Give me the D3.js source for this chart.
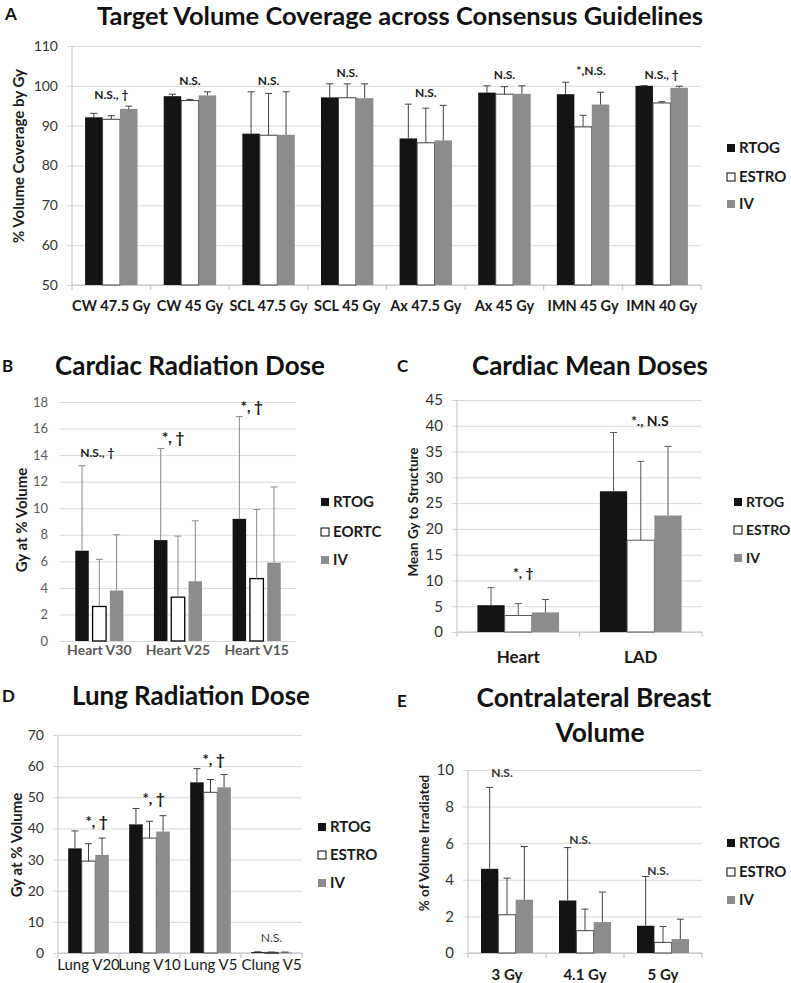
<!DOCTYPE html>
<html><head><meta charset="utf-8">
<script src="https://cdn.jsdelivr.net/npm/d3@7"></script>
<style>
body{margin:0;background:#fff}
svg{display:block}
text{font-family:Lato,"Open Sans",sans-serif}
</style>
</head><body>
<svg id="chart" width="791" height="983"></svg>
<script>
// ---------- DATA ----------
const seriesStd = ["RTOG", "ESTRO", "IV"];
const seriesB = ["RTOG", "EORTC", "IV"];

// Panel A
const catsA = ["CW 47.5 Gy", "CW 45 Gy", "SCL 47.5 Gy", "SCL 45 Gy", "Ax 47.5 Gy", "Ax 45 Gy", "IMN 45 Gy", "IMN 40 Gy"];
const rtogA = [92.1, 97.4, 88.0, 97.1, 86.8, 98.3, 97.9, 100.0];
const estroA = [91.6, 96.3, 87.6, 97.0, 85.7, 97.9, 89.7, 95.7];
const ivA = [94.2, 97.6, 87.7, 96.9, 86.3, 98.0, 95.3, 99.5];
const rtogSdA = [1.0, 0.5, 10.5, 3.4, 8.6, 1.7, 3.0, 0.05];
const estroSdA = [0.9, 0.3, 10.5, 3.5, 8.7, 1.9, 2.9, 0.3];
const ivSdA = [0.7, 0.9, 10.8, 3.6, 8.8, 2.0, 3.1, 0.4];
const notesA = ["N.S., \u2020", "N.S.", "N.S.", "N.S.", "N.S.", "N.S.", "*,N.S.", "N.S., \u2020"];
const ticksA = [50, 60, 70, 80, 90, 100, 110];

// Panel B
const catsB = ["Heart V30", "Heart V25", "Heart V15"];
const rtogB = [6.8, 7.6, 9.2];
const eortcB = [2.6, 3.3, 4.7];
const ivB = [3.8, 4.5, 5.9];
const rtogSdB = [6.4, 6.9, 7.7];
const eortcSdB = [3.55, 4.6, 5.2];
const ivSdB = [4.2, 4.55, 5.7];
const notesB = ["N.S., \u2020", "*, \u2020", "*, \u2020"];
const ticksB = [0, 2, 4, 6, 8, 10, 12, 14, 16, 18];

// Panel C
const catsC = ["Heart", "LAD"];
const rtogC = [5.2, 27.3];
const estroC = [3.2, 17.8];
const ivC = [3.8, 22.6];
const rtogSdC = [3.4, 11.4];
const estroSdC = [2.3, 15.3];
const ivSdC = [2.5, 13.4];
const notesC = ["*, \u2020", "*., N.S"];
const ticksC = [0, 5, 10, 15, 20, 25, 30, 35, 40, 45];

// Panel D
const catsD = ["Lung V20", "Lung V10", "Lung V5", "Clung V5"];
const rtogD = [33.6, 41.3, 54.8, 0.3];
const estroD = [29.5, 36.9, 51.6, 0.2];
const ivD = [31.5, 39.0, 53.2, 0.2];
const rtogSdD = [5.6, 5.1, 4.4, 0.1];
const estroSdD = [5.6, 5.4, 4.1, 0.1];
const ivSdD = [5.4, 5.1, 4.1, 0.1];
const notesD = ["*, \u2020", "*, \u2020", "*, \u2020", "N.S."];
const ticksD = [0, 10, 20, 30, 40, 50, 60, 70];

// Panel E
const catsE = ["3 Gy", "4.1 Gy", "5 Gy"];
const rtogE = [4.6, 2.87, 1.49];
const estroE = [2.09, 1.22, 0.58];
const ivE = [2.91, 1.69, 0.76];
const rtogSdE = [4.45, 2.89, 2.69];
const estroSdE = [2.0, 1.18, 0.87];
const ivSdE = [2.91, 1.64, 1.09];
const notesE = ["N.S.", "N.S.", "N.S."];
const ticksE = [0, 2, 4, 6, 8, 10];

// ---------- DRAWING ----------
const svg = d3.select("#chart");
const fills = ["#141414", "#ffffff", "#8c8c8c"];

function fitText(sel, w) {
  const n = sel.node();
  const fs = parseFloat(sel.attr("font-size"));
  const len = n.getComputedTextLength();
  let nf = fs;
  if (len > 0) nf = fs * w / len;
  sel.attr("font-size", nf.toFixed(2));
  return nf;
}

function panel(c) {
  const g = svg.append("g");
  const y = d3.scaleLinear().domain([c.ticks[0], c.ticks[c.ticks.length - 1]]).range([c.yb, c.yt]);
  const x = d3.scaleBand().domain(c.cats).range([c.x0, c.x1])
    .paddingInner(c.gpad).paddingOuter(c.gpad / 2);
  const xs = d3.scaleBand().domain(d3.range(3)).range([0, x.bandwidth()])
    .paddingInner(c.bpad).paddingOuter(c.bpad / 2);

  // grid + y labels via axis
  const ya = g.append("g").attr("transform", `translate(${c.x0},0)`)
    .call(d3.axisLeft(y).tickValues(c.ticks).tickSizeInner(-(c.x1 - c.x0)).tickSizeOuter(0)
      .tickPadding(c.tickPad).tickFormat(d3.format("d")));
  ya.select(".domain").remove();
  ya.selectAll(".tick line").attr("stroke", "#d9d9d9").attr("x1", c.axis ? -5 : 0);
  ya.selectAll(".tick text").attr("font-family", "Lato, sans-serif").attr("font-size", c.tickSize)
    .attr("fill", c.tickColor);

  if (c.axis) {
    g.append("line").attr("x1", c.x0).attr("x2", c.x0).attr("y1", c.yt).attr("y2", c.yb).attr("stroke", "#bfbfbf");
    g.append("line").attr("x1", c.x0).attr("x2", c.x1).attr("y1", c.yb).attr("y2", c.yb).attr("stroke", "#bfbfbf");
    g.selectAll(".xt").data(d3.range(c.cats.length + 1)).join("line")
      .attr("x1", i => c.x0 + i * x.step()).attr("x2", i => c.x0 + i * x.step())
      .attr("y1", c.yb).attr("y2", c.yb + 5).attr("stroke", "#bfbfbf");
  }

  // bars
  const flat = [];
  c.cats.forEach((cat, i) => {
    c.vals.forEach((s, k) => flat.push({cat, i, k, v: s[i], sd: c.sds[k][i]}));
  });
  g.selectAll(".bar").data(flat).join("rect")
    .attr("x", d => x(d.cat) + xs(d.k))
    .attr("width", xs.bandwidth())
    .attr("y", d => y(d.v))
    .attr("height", d => Math.max(c.minH || 0, c.yb - y(d.v)))
    .attr("fill", d => fills[d.k])
    .attr("stroke", d => d.k === 1 ? c.outline : "none")
    .attr("stroke-width", c.outlineW);
  // error bars
  const eb = g.selectAll(".eb").data(flat).join("g").attr("stroke", c.errColor).attr("stroke-width", 1);
  eb.append("line")
    .attr("x1", d => x(d.cat) + xs(d.k) + xs.bandwidth() / 2)
    .attr("x2", d => x(d.cat) + xs(d.k) + xs.bandwidth() / 2)
    .attr("y1", d => y(d.v)).attr("y2", d => y(d.v + d.sd));
  eb.append("line")
    .attr("x1", d => x(d.cat) + xs(d.k) + xs.bandwidth() / 2 - 3.5)
    .attr("x2", d => x(d.cat) + xs(d.k) + xs.bandwidth() / 2 + 3.5)
    .attr("y1", d => y(d.v + d.sd)).attr("y2", d => y(d.v + d.sd));

  // annotations
  c.cats.forEach((cat, i) => {
    const top = d3.max(c.vals, (s, k) => s[i] + c.sds[k][i]);
    const st = c.noteStyle(c.notes[i], i);
    g.append("text").attr("x", x(cat) + x.bandwidth() / 2 + (st.dx || 0))
      .attr("y", y(top) - st.dy)
      .attr("text-anchor", "middle").attr("font-size", st.size).attr("font-weight", st.weight)
      .attr("fill", st.color).text(c.notes[i]);
  });

  // x labels
  g.selectAll(".xl").data(c.cats).join("text")
    .attr("x", d => x(d) + x.bandwidth() / 2).attr("y", c.xLabelY).attr("dy", "0.35em")
    .attr("text-anchor", "middle").attr("font-size", c.xSize).attr("font-weight", c.xWeight)
    .attr("fill", c.xColor).text(d => d);

  // legend
  c.series.forEach((s, k) => {
    g.append("rect").attr("x", c.legX).attr("y", c.legY[k] - 4).attr("width", 8).attr("height", 8)
      .attr("fill", fills[k]).attr("stroke", k === 1 ? "#000" : "none").attr("stroke-width", 1);
    g.append("text").attr("x", c.legX + 12).attr("y", c.legY[k]).attr("dy", "0.35em")
      .attr("font-size", c.legSize).attr("font-weight", c.legWeight).attr("fill", "#1a1a1a").text(s);
  });

  // y label
  g.append("text").attr("transform", `translate(${c.yLabX},${c.yLabY}) rotate(-90)`)
    .attr("text-anchor", "middle").attr("dy", "0.35em")
    .attr("font-size", c.yLabSize).attr("font-weight", "bold").attr("fill", "#1a1a1a").text(c.yLabel);

  // title(s): first line fitted to width, later lines use the same size
  let tfs = 24;
  c.title.forEach((t, j) => {
    const tt = g.append("text").attr("x", t.x).attr("y", t.y).attr("text-anchor", "middle")
      .attr("font-size", tfs).attr("font-weight", "bold").attr("fill", "#111").text(t.text);
    if (j === 0) tfs = fitText(tt, t.w);
  });
  g.append("text").attr("x", c.letter.x).attr("y", c.letter.y)
    .attr("font-family", "Liberation Sans, Arial, sans-serif").attr("font-size", 17)
    .attr("font-weight", "bold").attr("fill", "#111").text(c.letter.t);
}

const boldNote = (size, dy) => (t, i) => ({size, dy, weight: "bold", color: "#1a1a1a", dx: i === 6 ? 8 : 0});

panel({
  cats: catsA, vals: [rtogA, estroA, ivA], sds: [rtogSdA, estroSdA, ivSdA], notes: notesA, ticks: ticksA,
  series: seriesStd, x0: 72, x1: 701, yb: 285, yt: 46, gpad: 1 / 3, bpad: 0, axis: true,
  tickPad: 14, tickSize: 14, tickColor: "#333", outline: "#404040", outlineW: 1, errColor: "#404040",
  noteStyle: boldNote(12, 7),
  xLabelY: 306, xSize: 14.5, xWeight: "bold", xColor: "#1a1a1a",
  legX: 727, legY: [148, 177, 204], legSize: 15, legWeight: "bold",
  yLabel: "% Volume Coverage by Gy", yLabX: 19, yLabY: 156, yLabSize: 15,
  title: [{text: "Target Volume Coverage across Consensus Guidelines", x: 400, y: 25, w: 606}],
  letter: {t: "A", x: 5, y: 20}
});

panel({
  cats: catsB, vals: [rtogB, eortcB, ivB], sds: [rtogSdB, eortcSdB, ivSdB], notes: notesB, ticks: ticksB,
  series: seriesB, x0: 60, x1: 296, yb: 641, yt: 402, gpad: 0.34, bpad: 0.22, axis: false,
  tickPad: 12, tickSize: 13, tickColor: "#595959", outline: "#000", outlineW: 1.3, errColor: "#8a8a8a",
  noteStyle: (t, i) => ({size: i === 0 ? 12 : 15, dy: i === 0 ? 9 : 5, dx: i === 0 ? -2 : -5, weight: "bold", color: "#1a1a1a"}),
  xLabelY: 650, xSize: 14, xWeight: "bold", xColor: "#595959",
  legX: 321, legY: [502, 532, 560], legSize: 15, legWeight: "bold",
  yLabel: "Gy at % Volume", yLabX: 22, yLabY: 520, yLabSize: 15,
  title: [{text: "Cardiac Radiation Dose", x: 190, y: 375, w: 270}],
  letter: {t: "B", x: 2, y: 372}
});

panel({
  cats: catsC, vals: [rtogC, estroC, ivC], sds: [rtogSdC, estroSdC, ivSdC], notes: notesC, ticks: ticksC,
  series: seriesStd, x0: 457, x1: 702, yb: 632, yt: 400, gpad: 1 / 3, bpad: 0, axis: true,
  tickPad: 14, tickSize: 15, tickColor: "#333", outline: "#595959", outlineW: 1, errColor: "#595959",
  noteStyle: (t, i) => ({size: 14, dy: i === 0 ? 10 : 6, dx: i === 0 ? 5 : 9, weight: "bold", color: "#1a1a1a"}),
  xLabelY: 657, xSize: 17, xWeight: "bold", xColor: "#1a1a1a",
  legX: 734, legY: [502, 530, 558], legSize: 14, legWeight: "bold",
  yLabel: "Mean Gy to Structure", yLabX: 413, yLabY: 512, yLabSize: 13.5,
  title: [{text: "Cardiac Mean Doses", x: 590, y: 375, w: 236}],
  letter: {t: "C", x: 397, y: 372}
});

panel({
  cats: catsD, vals: [rtogD, estroD, ivD], sds: [rtogSdD, estroSdD, ivSdD], notes: notesD, ticks: ticksD,
  series: seriesStd, x0: 58, x1: 302, yb: 953, yt: 735, gpad: 1 / 3, bpad: 0, axis: true, minH: 1,
  tickPad: 14, tickSize: 14, tickColor: "#333", outline: "#404040", outlineW: 1, errColor: "#404040",
  noteStyle: (t, i) => i === 3 ? {size: 12, dy: 10, weight: "normal", color: "#404040"}
    : {size: 15, dy: 4, dx: [8, 4, 3][i], weight: "bold", color: "#1a1a1a"},
  xLabelY: 965, xSize: 15, xWeight: "normal", xColor: "#1a1a1a",
  legX: 318, legY: [827, 855, 883], legSize: 15, legWeight: "bold",
  yLabel: "Gy at % Volume", yLabX: 17, yLabY: 845, yLabSize: 15,
  title: [{text: "Lung Radiation Dose", x: 191, y: 705, w: 238}],
  letter: {t: "D", x: 2, y: 702}
});

panel({
  cats: catsE, vals: [rtogE, estroE, ivE], sds: [rtogSdE, estroSdE, ivSdE], notes: notesE, ticks: ticksE,
  series: seriesStd, x0: 468, x1: 702, yb: 953, yt: 770, gpad: 1 / 3, bpad: 0, axis: true,
  tickPad: 14, tickSize: 15, tickColor: "#333", outline: "#404040", outlineW: 1, errColor: "#404040",
  noteStyle: (t, i) => ({size: 12, dy: [10, 4, 2][i], dx: -5, weight: "bold", color: "#333"}),
  xLabelY: 975, xSize: 15, xWeight: "bold", xColor: "#1a1a1a",
  legX: 727, legY: [843, 872, 900], legSize: 15, legWeight: "bold",
  yLabel: "% of Volume Irradiated", yLabX: 424, yLabY: 843, yLabSize: 13.5,
  title: [{text: "Contralateral Breast", x: 594, y: 707, w: 235}, {text: "Volume", x: 600, y: 742}],
  letter: {t: "E", x: 397, y: 707}
});
</script>
</body></html>
